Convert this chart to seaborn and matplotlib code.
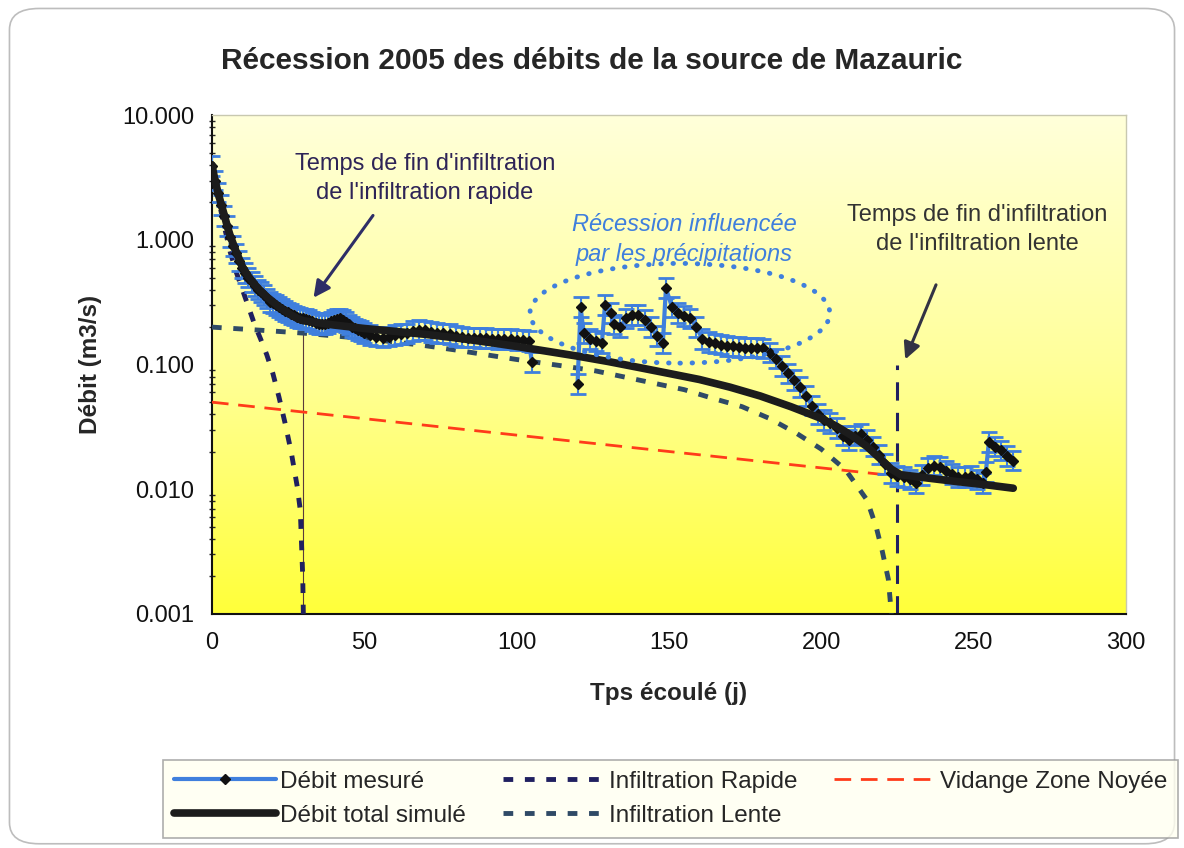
import numpy as np
import pandas as pd
import seaborn as sns
import matplotlib.pyplot as plt
from matplotlib.colors import LinearSegmentedColormap
from matplotlib.lines import Line2D
from matplotlib.patches import Ellipse, FancyBboxPatch

# ---- data ----
t_mes = [0, 1, 2, 3, 4, 5, 6, 7, 8, 9, 10, 11, 12, 13, 14, 15, 16, 17, 18, 19, 20,
         21, 22, 23, 24, 25, 26, 27, 28, 29, 30, 31, 32, 33, 34, 35, 36, 37, 38, 39,
         40, 41, 42, 43, 44, 45, 46, 47, 48, 49, 50, 52, 54, 56, 58,
         60, 62, 64, 66, 68, 70, 72, 74, 76, 78, 80, 82, 84, 86, 88, 90, 92, 94, 96,
         98, 100, 102, 104, 105,
         120, 121, 122, 124, 126, 128, 129, 131, 132, 134, 136, 138, 140, 142, 144,
         146, 148, 149, 151, 153, 155, 157, 159, 161, 163, 165, 167, 169, 171, 173,
         175, 177, 179, 181, 183, 185, 187, 189, 191, 193, 195, 197, 199, 201, 203,
         205, 207, 209, 211, 213, 215, 217, 219, 221, 223, 225, 227, 229, 231, 233,
         235, 237, 239, 241, 243, 245, 247, 249, 251, 253, 254, 255, 257, 259, 261, 263]
q_mes = [3.9, 3.0, 2.4, 1.9, 1.55, 1.3, 1.05, 0.9, 0.78, 0.68, 0.6, 0.54, 0.5, 0.46,
         0.43, 0.4, 0.38, 0.36, 0.34, 0.32, 0.31,
         0.3, 0.29, 0.28, 0.27, 0.262, 0.255, 0.248, 0.24, 0.237, 0.235, 0.232, 0.23,
         0.222, 0.215, 0.212, 0.21, 0.212, 0.215, 0.222,
         0.23, 0.234, 0.235, 0.228, 0.22, 0.21, 0.2, 0.195, 0.19, 0.185,
         0.18, 0.172, 0.168, 0.165, 0.168,
         0.172, 0.175, 0.178, 0.185, 0.19, 0.188, 0.182, 0.18, 0.178, 0.175, 0.17,
         0.167, 0.165, 0.165, 0.163, 0.163, 0.162, 0.16, 0.16,
         0.16, 0.158, 0.157, 0.155, 0.105,
         0.07, 0.29, 0.18, 0.16, 0.155, 0.15, 0.3, 0.26, 0.21, 0.2, 0.235, 0.25, 0.25,
         0.23, 0.2,
         0.17, 0.15, 0.41, 0.29, 0.26, 0.245, 0.235, 0.2, 0.16, 0.152, 0.148, 0.145,
         0.142, 0.14, 0.138,
         0.137, 0.137, 0.137, 0.135, 0.125, 0.112, 0.098, 0.085, 0.075, 0.066, 0.056,
         0.047, 0.04, 0.036, 0.034,
         0.031, 0.027, 0.025, 0.027, 0.028, 0.025, 0.022, 0.019, 0.016, 0.0135,
         0.0128, 0.0126, 0.012, 0.0113, 0.013,
         0.0148, 0.0155, 0.015, 0.014, 0.0133, 0.0126, 0.0125, 0.0127, 0.012, 0.0113,
         0.0137, 0.024, 0.022, 0.0205, 0.0185, 0.017]
gap_after = 105  # no measurements between day 105 and day 120

t_tot = [0, 1, 2, 3, 4, 5, 6, 8, 10, 12, 14, 16, 18, 20, 22, 24, 26, 28, 30, 40, 50,
         60, 70, 80, 90, 100, 110, 120, 130, 140, 150, 160, 170, 180, 190, 200, 205,
         210, 215, 220, 223, 226, 235, 245, 255, 263]
q_tot = [4.0, 3.0, 2.4, 1.95, 1.6, 1.3, 1.08, 0.8, 0.61, 0.51, 0.44, 0.39, 0.35,
         0.32, 0.29, 0.27, 0.25, 0.235, 0.225, 0.208, 0.195, 0.185, 0.175, 0.164,
         0.152, 0.14, 0.128, 0.117, 0.106, 0.095, 0.085, 0.076, 0.066, 0.056, 0.046,
         0.037, 0.032, 0.027, 0.022, 0.017, 0.0145, 0.0131, 0.0123, 0.0115, 0.0108,
         0.0102]

t_rap = [0, 2, 4, 6, 8, 10, 12, 14, 16, 18, 20, 22, 24, 26, 28, 29, 29.8, 30]
q_rap = [3.8, 2.2, 1.3, 0.8, 0.55, 0.4, 0.29, 0.21, 0.16, 0.12, 0.085, 0.055,
         0.034, 0.02, 0.0105, 0.0068, 0.002, 0.001]

t_len = [0, 10, 20, 30, 40, 50, 60, 70, 80, 90, 100, 116, 126, 136, 145, 155, 164,
         174, 183, 192, 200, 208, 215, 218, 220, 222, 223]
q_len = [0.2, 0.193, 0.186, 0.179, 0.17, 0.162, 0.152, 0.142, 0.131, 0.12, 0.11,
         0.097, 0.089, 0.079, 0.071, 0.063, 0.054, 0.046, 0.037, 0.028, 0.021,
         0.0143, 0.0082, 0.005, 0.0032, 0.0019, 0.001]

t_vid = [0, 100, 222]
q_vid = [0.05, 0.0272, 0.013]

t_fin_rapide = 30
t_fin_lente = 225
err_rel = 0.2

# ---- style ----
sns.set_theme(style="white")
plt.rcParams['font.family'] = ['Liberation Sans', 'DejaVu Sans']

c_mes = '#3F7FDD'
c_tot = '#1C1C1C'
c_rap = '#202060'
c_len = '#2F4A66'
c_vid = '#FF3B1A'

fig = plt.figure(figsize=(11.84, 8.48), dpi=100)
pos = [0.179, 0.276, 0.772, 0.588]

# yellow gradient behind the plot area
bg = fig.add_axes(pos, zorder=0)
grad = np.linspace(0, 1, 256).reshape(-1, 1)
cmap = LinearSegmentedColormap.from_list('yel', ['#FFFFDA', '#FFFF9A', '#FFFF3A'])
bg.imshow(grad, aspect='auto', cmap=cmap, extent=[0, 1, 0, 1], origin='upper')
bg.set_axis_off()

ax = fig.add_axes(pos, zorder=1)
ax.patch.set_alpha(0)

# model curves
sns.lineplot(x=t_len, y=q_len, ax=ax, color=c_len, lw=3.5, zorder=3)
ax.lines[-1].set_dashes([2, 2.4])
sns.lineplot(x=t_rap, y=q_rap, ax=ax, color=c_rap, lw=3.5, zorder=3)
ax.lines[-1].set_dashes([2, 2.4])
sns.lineplot(x=t_vid, y=q_vid, ax=ax, color=c_vid, lw=2, zorder=3)
ax.lines[-1].set_dashes([6, 3.5])

# measured discharge with error bars
mes = pd.DataFrame({'t': t_mes, 'q': q_mes})
for part in (mes[mes.t <= gap_after], mes[mes.t > gap_after]):
    q = part.q.values
    ax.errorbar(part.t, q, yerr=[q - q / (1 + err_rel), q * err_rel],
                color=c_mes, lw=3, ecolor=c_mes, elinewidth=1.5, capsize=6,
                capthick=2, marker='D', ms=5, mfc='#111111', mec='#111111',
                zorder=4)

sns.lineplot(x=t_tot, y=q_tot, ax=ax, color=c_tot, lw=5.5, zorder=5)

# end-of-infiltration markers
ax.vlines(t_fin_rapide, 0.001, 0.18, color='#5A3A3A', lw=0.8, zorder=2)
ax.vlines(t_fin_lente, 0.001, 0.1, color=c_rap, lw=2.2, linestyles=(0, (6, 4)),
          zorder=2)

ax.set_yscale('log')
ax.set_xlim(0, 300)
ax.set_ylim(0.001, 10)
ax.set_yticks([0.001, 0.01, 0.1, 1, 10])
ax.set_yticklabels(['0.001', '0.010', '0.100', '1.000', '10.000'])
ax.set_xticks(range(0, 301, 50))
ax.set_xticks(range(0, 301, 10), minor=True)
ax.tick_params(axis='both', which='major', labelsize=17, direction='inout',
               length=10, width=1.5, colors='#111111', pad=8)
ax.tick_params(axis='x', which='minor', direction='out', length=5, width=1.5)
ax.tick_params(axis='y', which='minor', direction='inout', length=5, width=1,
               left=True)
ax.tick_params(axis='both', labelcolor='#111111')
for s in ('left', 'bottom'):
    ax.spines[s].set_color('#111111')
    ax.spines[s].set_linewidth(1.5)
for s in ('top', 'right'):
    ax.spines[s].set_color('#C8C8B0')
    ax.spines[s].set_linewidth(1)

ax.set_xlabel('Tps écoulé (j)', fontsize=17.5, fontweight='bold', labelpad=20)
ax.set_ylabel('Débit (m3/s)', fontsize=17.5, fontweight='bold', labelpad=14)
fig.text(0.5, 0.928, 'Récession 2005 des débits de la source de Mazauric',
         ha='center', va='center', fontsize=21.5, fontweight='bold')

# annotations
ax.text(0.233, 0.874, "Temps de fin d'infiltration\nde l'infiltration rapide",
        transform=ax.transAxes, ha='center', va='center', fontsize=17,
        color='#2E2457', linespacing=1.42)
ax.annotate('', xy=(32.8, 0.33), xytext=(53.4, 1.64),
            arrowprops=dict(arrowstyle='-|>', color='#2E2E66', lw=2.2,
                            mutation_scale=25))
ax.text(0.837, 0.771, "Temps de fin d'infiltration\nde l'infiltration lente",
        transform=ax.transAxes, ha='center', va='center', fontsize=17,
        color='#333333', linespacing=1.42)
ax.annotate('', xy=(227.2, 0.105), xytext=(238, 0.458),
            arrowprops=dict(arrowstyle='-|>', color='#333344', lw=2.2,
                            mutation_scale=25))
ax.text(0.517, 0.751, "Récession influencée\npar les précipitations",
        transform=ax.transAxes, ha='center', va='center', fontsize=17,
        style='italic', color=c_mes, linespacing=1.42)
ax.add_patch(Ellipse((0.512, 0.603), 0.328, 0.2, transform=ax.transAxes,
                     fill=False, ec=c_mes, lw=3.5, ls=(0, (0.1, 2.4)),
                     capstyle='round', zorder=6))

# legend
handles = [
    Line2D([], [], color=c_mes, lw=3, marker='D', ms=5, mfc='#111111',
           mec='#111111'),
    Line2D([], [], color=c_tot, lw=5.5),
    Line2D([], [], color=c_rap, lw=3.5, dashes=[2, 2.4]),
    Line2D([], [], color=c_len, lw=3.5, dashes=[2, 2.4]),
    Line2D([], [], color=c_vid, lw=2, dashes=[6, 3.5]),
]
labels = ['Débit mesuré', 'Débit total simulé', 'Infiltration Rapide',
          'Infiltration Lente', 'Vidange Zone Noyée']
leg = fig.legend(handles, labels, loc='lower left', ncol=3,
                 bbox_to_anchor=(0.138, 0.012, 0.857, 0.092), mode='expand',
                 fontsize=17.5, handlelength=4.2, handletextpad=0.15,
                 fancybox=False, frameon=True, borderaxespad=0,
                 labelspacing=0.5, borderpad=0.45)
leg.get_frame().set_facecolor('#FFFFF0')
leg.get_frame().set_edgecolor('#9A9A9A')
leg.get_frame().set_linewidth(1.2)

# rounded outer frame
fig.add_artist(FancyBboxPatch((0.008, 0.005), 0.984, 0.985,
                              boxstyle='round,pad=0,rounding_size=0.025',
                              transform=fig.transFigure, fill=False,
                              ec='#BDBDBD', lw=1.2))

fig.savefig('out.png', dpi=100)
